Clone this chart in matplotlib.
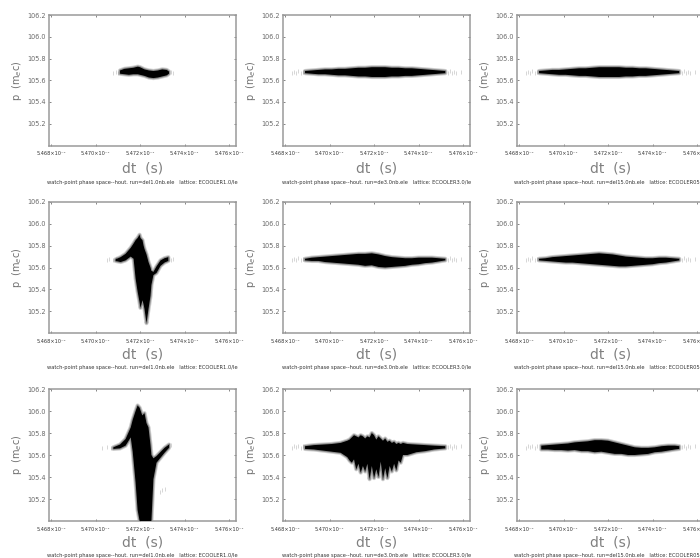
import matplotlib
matplotlib.use("Agg")
import matplotlib.pyplot as plt

# dt values are in units of 1e-7 s, momentum p in units of m_e c
X_TICKS = [5.468, 5.470, 5.472, 5.474, 5.476]
X_TICK_LABELS = ["5.468×10⁻⁷", "5.470×10⁻⁷", "5.472×10⁻⁷", "5.474×10⁻⁷", "5.476×10⁻⁷"]
Y_TICKS = [105.2, 105.4, 105.6, 105.8, 106.0, 106.2]
Y_TICK_LABELS = ["105.2", "105.4", "105.6", "105.8", "106.0", "106.2"]
CAPTIONS = [
    "watch-point phase space--hout. run=del1.0nb.ele   lattice: ECOOLER1.0/le",
    "watch-point phase space--hout. run=de3.0nb.ele   lattice: ECOOLER3.0/le",
    "watch-point phase space--hout. run=del15.0nb.ele   lattice: ECOOLER05.0/",
]

# Row 1
A_dt = [5.4711, 5.4713, 5.4715, 5.4717, 5.4719, 5.4720, 5.4722, 5.4724, 5.4726, 5.4728, 5.4730, 5.4732, 5.4733]
A_up = [105.69, 105.705, 105.71, 105.715, 105.725, 105.72, 105.70, 105.69, 105.685, 105.69, 105.70, 105.695, 105.68]
A_lo = [105.66, 105.655, 105.65, 105.655, 105.655, 105.65, 105.64, 105.625, 105.62, 105.625, 105.635, 105.645, 105.66]
A_tail_dt = [5.4708, 5.4709, 5.4710, 5.4734, 5.4735]
A_tail_p = [105.67, 105.68, 105.665, 105.68, 105.67]

B_dt = [5.4689, 5.4692, 5.4695, 5.4698, 5.4701, 5.4704, 5.4707, 5.4710, 5.4713, 5.4716, 5.4719, 5.4722, 5.4725, 5.4728, 5.4731, 5.4734, 5.4737, 5.4740, 5.4743, 5.4746, 5.4749, 5.4752]
B_up = [105.685, 105.69, 105.695, 105.70, 105.70, 105.705, 105.705, 105.71, 105.715, 105.715, 105.72, 105.72, 105.72, 105.715, 105.715, 105.71, 105.71, 105.705, 105.70, 105.695, 105.69, 105.685]
B_lo = [105.665, 105.66, 105.655, 105.655, 105.65, 105.645, 105.645, 105.64, 105.635, 105.635, 105.63, 105.63, 105.63, 105.635, 105.635, 105.64, 105.64, 105.645, 105.65, 105.655, 105.66, 105.665]

C_dt = [5.4689, 5.4692, 5.4695, 5.4698, 5.4701, 5.4704, 5.4707, 5.4710, 5.4713, 5.4716, 5.4719, 5.4722, 5.4725, 5.4728, 5.4731, 5.4734, 5.4737, 5.4740, 5.4743, 5.4746, 5.4749, 5.4752]
C_up = [105.685, 105.69, 105.695, 105.695, 105.70, 105.705, 105.71, 105.71, 105.715, 105.72, 105.72, 105.72, 105.72, 105.715, 105.715, 105.71, 105.71, 105.705, 105.70, 105.695, 105.69, 105.685]
C_lo = [105.665, 105.66, 105.655, 105.65, 105.65, 105.645, 105.64, 105.64, 105.635, 105.63, 105.63, 105.63, 105.63, 105.635, 105.635, 105.64, 105.64, 105.645, 105.65, 105.655, 105.66, 105.665]

# Row 2
D_dt = [5.4709, 5.47113, 5.47135, 5.47158, 5.47171, 5.4718, 5.47189, 5.47198, 5.47202, 5.47211, 5.47216, 5.4722, 5.47229, 5.47238, 5.47247, 5.47251, 5.4726, 5.47274, 5.47292, 5.4731, 5.47327]
D_up = [105.675, 105.695, 105.725, 105.78, 105.82, 105.85, 105.87, 105.90, 105.87, 105.85, 105.80, 105.77, 105.72, 105.65, 105.60, 105.57, 105.56, 105.61, 105.665, 105.685, 105.695]
D_lo = [105.66, 105.65, 105.665, 105.70, 105.68, 105.50, 105.38, 105.28, 105.23, 105.30, 105.26, 105.22, 105.09, 105.22, 105.34, 105.44, 105.53, 105.55, 105.615, 105.645, 105.66]
D_tail_dt = [5.4705, 5.4706, 5.4708, 5.4709, 5.4733, 5.4734, 5.4735]
D_tail_p = [105.67, 105.68, 105.67, 105.68, 105.68, 105.67, 105.675]

E_dt = [5.4689, 5.4692, 5.4695, 5.4698, 5.4701, 5.4704, 5.4707, 5.4710, 5.4713, 5.4716, 5.4719, 5.4722, 5.4725, 5.4728, 5.4731, 5.4734, 5.4737, 5.4740, 5.4743, 5.4746, 5.4749, 5.4752]
E_up = [105.68, 105.69, 105.695, 105.70, 105.705, 105.71, 105.715, 105.72, 105.725, 105.725, 105.73, 105.72, 105.705, 105.695, 105.69, 105.685, 105.685, 105.69, 105.69, 105.69, 105.685, 105.68]
E_lo = [105.665, 105.66, 105.66, 105.65, 105.645, 105.64, 105.635, 105.63, 105.625, 105.615, 105.62, 105.605, 105.60, 105.605, 105.61, 105.615, 105.625, 105.63, 105.64, 105.645, 105.655, 105.665]

F_dt = [5.4689, 5.4692, 5.4695, 5.4698, 5.4701, 5.4704, 5.4707, 5.4710, 5.4713, 5.4716, 5.4719, 5.4722, 5.4725, 5.4728, 5.4731, 5.4734, 5.4737, 5.4740, 5.4743, 5.4746, 5.4749, 5.4752]
F_up = [105.68, 105.685, 105.695, 105.70, 105.705, 105.71, 105.715, 105.72, 105.725, 105.73, 105.725, 105.72, 105.71, 105.70, 105.695, 105.69, 105.685, 105.685, 105.69, 105.69, 105.685, 105.68]
F_lo = [105.665, 105.66, 105.655, 105.65, 105.645, 105.645, 105.64, 105.635, 105.63, 105.625, 105.62, 105.615, 105.61, 105.61, 105.615, 105.62, 105.625, 105.63, 105.64, 105.645, 105.655, 105.665]

# Row 3
G_dt = [5.4708, 5.4711, 5.47135, 5.47158, 5.47167, 5.4718, 5.47189, 5.47198, 5.4721, 5.4722, 5.47229, 5.47238, 5.47247, 5.47251, 5.4726, 5.47274, 5.4731, 5.4733]
G_up = [105.67, 105.695, 105.745, 105.85, 105.92, 106.00, 106.05, 106.03, 105.96, 105.98, 105.89, 105.85, 105.69, 105.60, 105.57, 105.59, 105.665, 105.695]
G_lo = [105.655, 105.66, 105.685, 105.76, 105.63, 105.35, 105.10, 105.00, 105.00, 105.00, 105.00, 105.00, 105.00, 105.00, 105.38, 105.53, 105.62, 105.665]
G_tail_dt = [5.4703, 5.4705, 5.4707, 5.4729, 5.4730, 5.4731, 5.4733, 5.4734]
G_tail_p = [105.66, 105.67, 105.66, 105.26, 105.28, 105.29, 105.69, 105.69]

H_dt = [5.4689, 5.4693, 5.4697, 5.4701, 5.4705, 5.4708, 5.4709, 5.4710, 5.4711, 5.4712, 5.4713, 5.4714, 5.4715, 5.4716, 5.4717, 5.4718, 5.4719, 5.4720, 5.4721, 5.4722, 5.4723, 5.4724, 5.4725, 5.4726, 5.4727, 5.4728, 5.4729, 5.4730, 5.4731, 5.4732, 5.4733, 5.4735, 5.4739, 5.4743, 5.4747, 5.4752]
H_up = [105.68, 105.69, 105.695, 105.70, 105.71, 105.73, 105.74, 105.76, 105.78, 105.77, 105.76, 105.78, 105.77, 105.75, 105.77, 105.76, 105.80, 105.78, 105.74, 105.77, 105.75, 105.73, 105.75, 105.72, 105.73, 105.71, 105.72, 105.70, 105.71, 105.70, 105.71, 105.70, 105.695, 105.69, 105.685, 105.68]
H_lo = [105.655, 105.65, 105.64, 105.63, 105.62, 105.58, 105.55, 105.53, 105.56, 105.47, 105.52, 105.44, 105.50, 105.45, 105.52, 105.38, 105.50, 105.39, 105.47, 105.40, 105.54, 105.38, 105.48, 105.39, 105.50, 105.45, 105.52, 105.46, 105.55, 105.53, 105.60, 105.60, 105.625, 105.635, 105.65, 105.66]

I_dt = [5.4690, 5.4693, 5.4696, 5.4699, 5.4702, 5.4705, 5.4708, 5.4711, 5.4714, 5.4717, 5.4720, 5.4723, 5.4726, 5.4729, 5.4732, 5.4735, 5.4738, 5.4741, 5.4744, 5.4747, 5.4750, 5.4752]
I_up = [105.685, 105.69, 105.695, 105.70, 105.705, 105.715, 105.72, 105.725, 105.735, 105.735, 105.73, 105.715, 105.70, 105.685, 105.67, 105.665, 105.665, 105.67, 105.68, 105.685, 105.685, 105.68]
I_lo = [105.65, 105.65, 105.645, 105.645, 105.64, 105.645, 105.635, 105.635, 105.625, 105.63, 105.62, 105.61, 105.61, 105.60, 105.60, 105.605, 105.61, 105.625, 105.63, 105.64, 105.65, 105.655]

WIDE_TAIL_DT = [5.4683, 5.4684, 5.4685, 5.4686, 5.4687, 5.4688, 5.4753, 5.4754, 5.4755, 5.4756, 5.4757, 5.4759]
WIDE_TAIL_P = [105.665, 105.68, 105.67, 105.685, 105.665, 105.68, 105.67, 105.685, 105.665, 105.68, 105.67, 105.68]

PANELS = [
    [(A_dt, A_up, A_lo, A_tail_dt, A_tail_p), (B_dt, B_up, B_lo, WIDE_TAIL_DT, WIDE_TAIL_P), (C_dt, C_up, C_lo, WIDE_TAIL_DT, WIDE_TAIL_P)],
    [(D_dt, D_up, D_lo, D_tail_dt, D_tail_p), (E_dt, E_up, E_lo, WIDE_TAIL_DT, WIDE_TAIL_P), (F_dt, F_up, F_lo, WIDE_TAIL_DT, WIDE_TAIL_P)],
    [(G_dt, G_up, G_lo, G_tail_dt, G_tail_p), (H_dt, H_up, H_lo, WIDE_TAIL_DT, WIDE_TAIL_P), (I_dt, I_up, I_lo, WIDE_TAIL_DT, WIDE_TAIL_P)],
]

W, H_PX = 700, 558
COL_LEFT = [49, 283, 517]
ROW_TOP = [15, 202, 389]
ROW_BOTTOM = [145.5, 333, 521]
AX_W = 187
LABEL_Y = [168, 355, 543]
CAP_Y = [182, 368, 556]
FRAME = "#9a9a9a"
TXT = "#6a6a6a"

fig = plt.figure(figsize=(7.0, 5.58), dpi=100, facecolor="white")
for r in range(3):
    for c in range(3):
        left = COL_LEFT[c]
        top, bottom = ROW_TOP[r], ROW_BOTTOM[r]
        ax = fig.add_axes([left / W, 1 - bottom / H_PX, AX_W / W, (bottom - top) / H_PX])
        dt, up, lo, tdt, tp = PANELS[r][c]
        # soft halo, then the dense core of the particle cloud
        ax.fill_between(dt, lo, up, facecolor="none", edgecolor="#00000030", linewidth=3.0, zorder=2)
        ax.fill_between(dt, lo, up, facecolor="none", edgecolor="#00000050", linewidth=1.6, zorder=2)
        ax.fill_between(dt, lo, up, facecolor="#000000", edgecolor="none", linewidth=0, zorder=3)
        ax.scatter(tdt, tp, marker="|", s=5, linewidths=0.6, color="#d0d0d0", zorder=1)
        ax.set_xlim(5.46791, 5.47631)
        ax.set_ylim(105.0, 106.2)
        ax.set_xticks(X_TICKS)
        ax.set_xticklabels(X_TICK_LABELS, fontsize=3.6, color="#333333")
        ax.set_yticks(Y_TICKS)
        ax.set_yticklabels(Y_TICK_LABELS, fontsize=4.7, color=TXT)
        ax.tick_params(axis="both", direction="in", length=1.6, width=0.5, color="#555555",
                       top=True, right=True, pad=2.5)
        ax.tick_params(axis="x", pad=4)
        for s in ax.spines.values():
            s.set_color(FRAME)
            s.set_linewidth(1.1)
        fig.text((left + AX_W / 2) / W, 1 - LABEL_Y[r] / H_PX, "dt  (s)", fontsize=10,
                 color="#808080", ha="center", va="center")
        fig.text((left - 32) / W, 1 - (top + bottom) / 2 / H_PX, r"p  (m$_e$c)", fontsize=7,
                 color="#707070", rotation=90, ha="center", va="center")
        fig.text((left + AX_W / 2) / W, 1 - CAP_Y[r] / H_PX, CAPTIONS[c], fontsize=3.7,
                 color="#333333", ha="center", va="center")

fig.savefig("out.png", dpi=100)
